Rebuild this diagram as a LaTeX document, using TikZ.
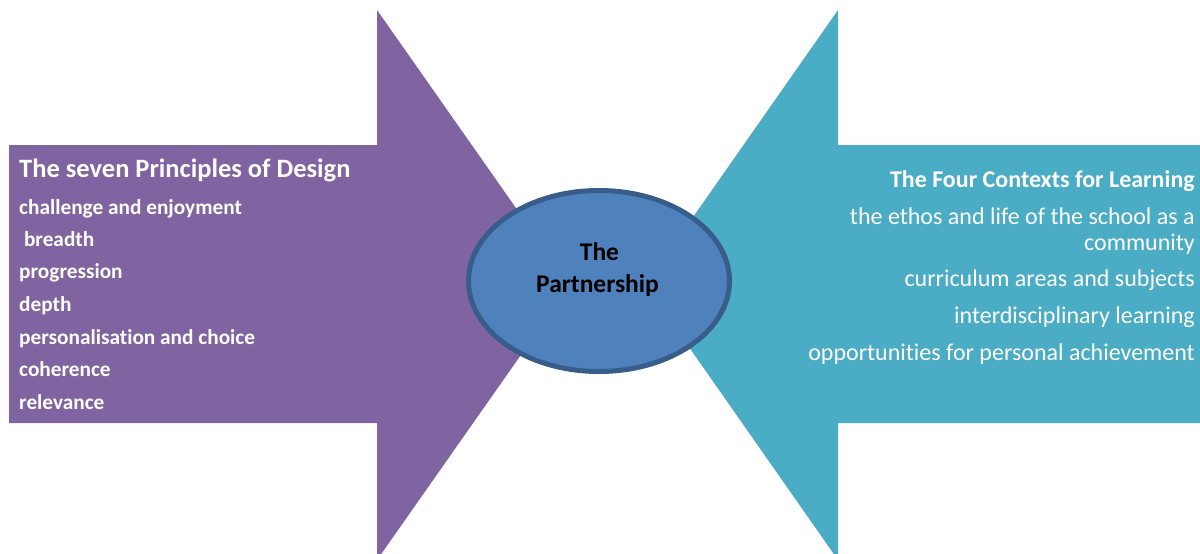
\documentclass[tikz,border=0pt]{standalone}
\usepackage{fontspec}
\setmainfont[Ligatures=NoCommon]{Carlito}
\usetikzlibrary{shapes.geometric}
\definecolor{purp}{HTML}{8064A2}
\definecolor{tealfive}{HTML}{4BACC6}
\definecolor{ellfill}{HTML}{4F81BD}
\definecolor{elldraw}{HTML}{385D8A}
\begin{document}
\begin{tikzpicture}[x=1pt,y=-1pt,
  lefttitle/.style={anchor=base west, inner sep=0pt, text=white, font=\bfseries\fontsize{26.5}{30}\selectfont},
  leftitem/.style={anchor=base west, inner sep=0pt, text=white, font=\bfseries\fontsize{21.3}{25}\selectfont},
  righttitle/.style={anchor=base east, inner sep=0pt, text=white, font=\bfseries\fontsize{24}{28}\selectfont},
  rightitem/.style={anchor=base east, inner sep=0pt, text=white, font=\fontsize{24}{28}\selectfont},
  centertxt/.style={anchor=base, inner sep=0pt, text=black, font=\bfseries\fontsize{25.5}{30}\selectfont},
  partner/.style={ellipse, fill=ellfill, draw=elldraw, line width=5pt, minimum width=261pt, minimum height=181pt, inner sep=0pt}
]
\useasboundingbox (0,0) rectangle (1200,554);
\clip (0,0) rectangle (1200,554);
% left arrow
\fill[purp] (9,145) -- (377,145) -- (377,10) -- (570,285) -- (377,560) -- (377,423) -- (9,423) -- cycle;
% right arrow
\fill[tealfive] (1201,145) -- (838,145) -- (838,10) -- (645.5,285) -- (838,560) -- (838,423) -- (1201,423) -- cycle;
% ellipse
\node[partner] (ell) at (599,281) {};
\node[centertxt] (the) at (599.5,260) {The};
\node[centertxt] (partnership) at (597.5,292) {Partnership};
% left texts
\node[lefttitle] (lt) at (19,177) {The seven Principles of Design};
\node[leftitem] (l1) at (19,214) {challenge and enjoyment};
\node[leftitem] (l2) at (19,246) {\ breadth};
\node[leftitem] (l3) at (19,278.5) {progression};
\node[leftitem] (l4) at (19,311) {depth};
\node[leftitem] (l5) at (19,344) {personalisation and choice};
\node[leftitem] (l6) at (19,376.5) {coherence};
\node[leftitem] (l7) at (19,409) {relevance};
% right texts
\node[righttitle] (rt) at (1195,187.5) {The Four Contexts for Learning};
\node[rightitem] (r1a) at (1195,224) {the ethos and life of the school as a};
\node[rightitem] (r1b) at (1195,250) {community};
\node[rightitem] (r2) at (1195,286.5) {curriculum areas and subjects};
\node[rightitem] (r3) at (1195,323.5) {interdisciplinary learning};
\node[rightitem] (r4) at (1195,360) {opportunities for personal achievement};
\end{tikzpicture}
\end{document}
